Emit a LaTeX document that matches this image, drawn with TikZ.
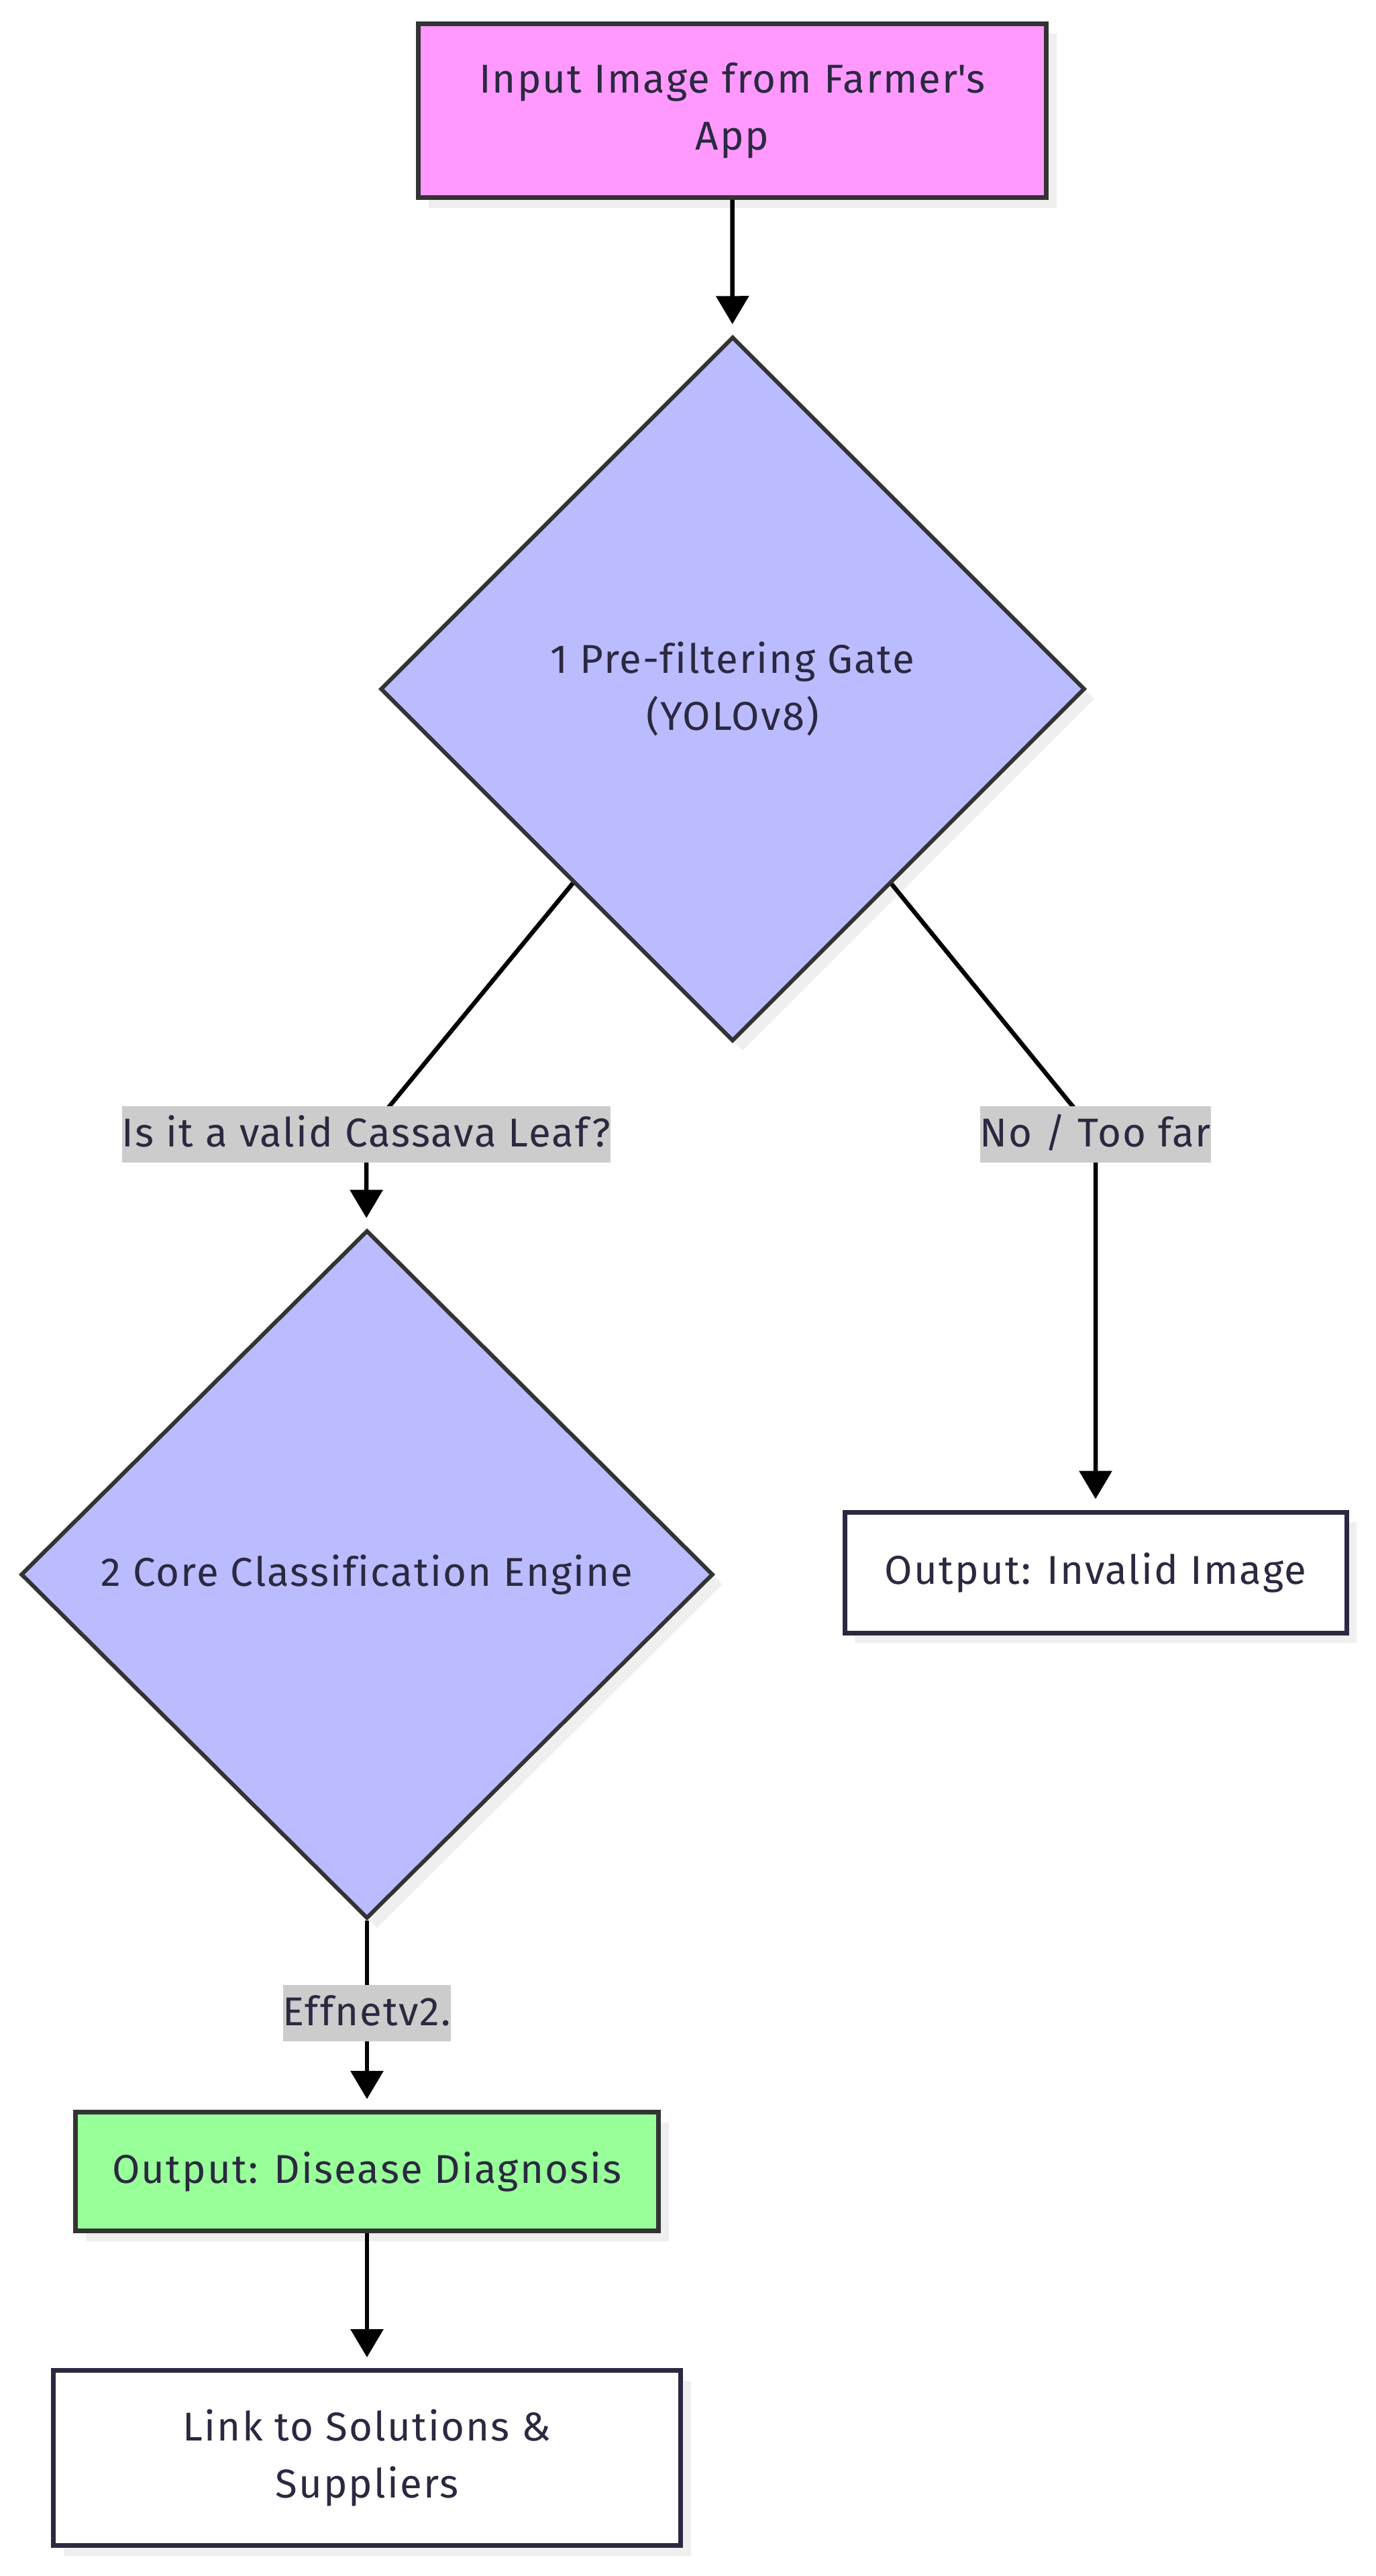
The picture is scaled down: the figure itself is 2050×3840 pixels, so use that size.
\documentclass[tikz,border=0pt]{standalone}
\usepackage{fontspec}
\setmainfont{Fira Sans}[LetterSpace=3.5,Ligatures=NoCommon]
\usetikzlibrary{shapes.geometric,arrows.meta,shadows}
\definecolor{txt}{HTML}{2A2940}
\definecolor{strk}{HTML}{333333}
\definecolor{pinkfill}{HTML}{FF99FF}
\definecolor{bluefill}{HTML}{BBBBFF}
\definecolor{greenfill}{HTML}{99FF99}
\definecolor{lblgray}{HTML}{CCCCCC}
\definecolor{shadowgray}{HTML}{EFEFEF}
\begin{document}
\begin{tikzpicture}[x=1pt,y=-1pt,
  every node/.style={font=\fontsize{60}{85}\selectfont, text=txt},
  shad/.style={drop shadow={shadow xshift=15pt,shadow yshift=-15pt,fill=shadowgray,opacity=1}},
  box/.style={draw=strk, rectangle, line width=7pt, align=center, inner sep=0pt, shad},
  whitebox/.style={box, draw=txt, fill=white},
  decision/.style={draw=strk, diamond, aspect=1, line width=6pt, fill=bluefill, align=center, inner sep=0pt, shad},
  lbl/.style={fill=lblgray, inner xsep=0pt, inner ysep=12pt, text height=48pt, text depth=12pt},
  conn/.style={line width=6.5pt, draw=black, -{Triangle[length=42pt,width=48pt]}, shorten >=16pt}
]
\useasboundingbox (0,0) rectangle (2050,3840);
\fill[white] (0,0) rectangle (2050,3840);

% nodes
\node[box, fill=pinkfill, minimum width=936pt, minimum height=259pt] (inp) at (1091.5,165) {Input Image from Farmer\textquotesingle s\\App};
\node[decision, minimum width=1050pt, minimum height=1050pt] (d1) at (1092,1027) {1 Pre-filtering Gate\\(YOLOv8)};
\node[decision, minimum width=1032pt, minimum height=1026pt] (d2) at (547,2347) {2 Core Classification Engine};
\node[whitebox, minimum width=748pt, minimum height=180pt] (inv) at (1633,2344) {Output: Invalid Image};
\node[box, fill=greenfill, minimum width=869pt, minimum height=177pt] (dis) at (547,3237) {Output: Disease Diagnosis};
\node[whitebox, minimum width=935pt, minimum height=261pt] (lnk) at (547,3664) {Link to Solutions \&\\Suppliers};

% label positions
\coordinate (c1) at (546,1691);
\coordinate (c2) at (1633,1691);
\coordinate (c3) at (547,3001);

% connectors
\draw[conn] (inp) -- (d1);
\draw[conn] (d1) -- (c1) -- (d2);
\draw[conn] (d1) -- (c2) -- (inv);
\draw[conn] (d2) -- (c3) -- (dis);
\draw[conn] (dis) -- (lnk);

% edge labels
\node[lbl] (l1) at (c1) {Is it a valid Cassava Leaf?};
\node[lbl] (l2) at (c2) {No / Too far};
\node[lbl] (l3) at (c3) {Effnetv2.};
\end{tikzpicture}
\end{document}
